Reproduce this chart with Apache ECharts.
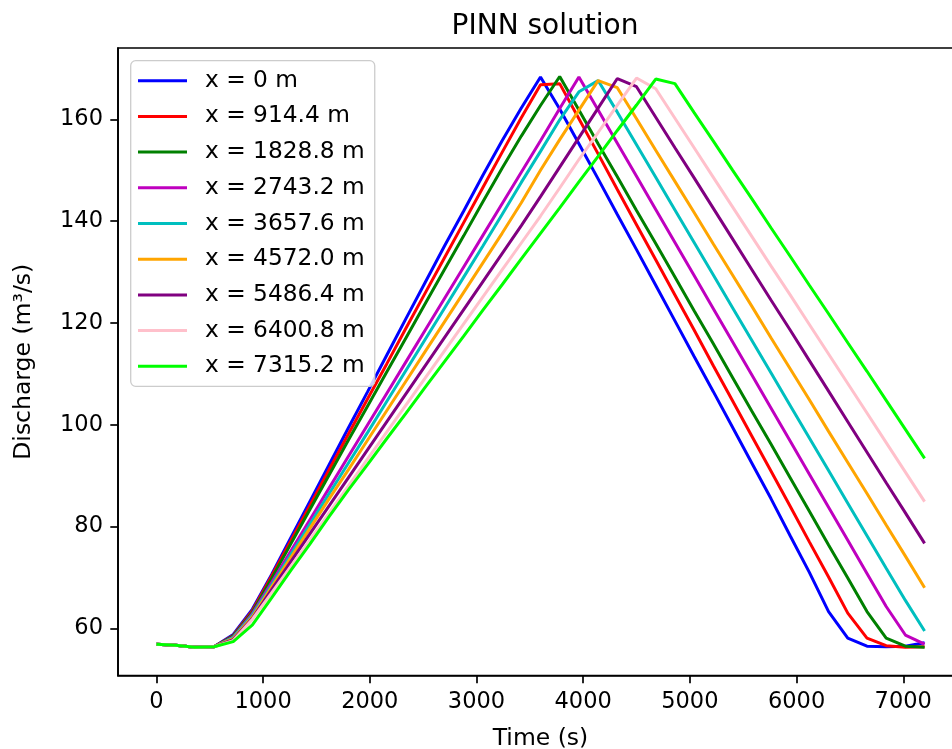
<!DOCTYPE html>
<html>
<head>
<meta charset="utf-8">
<title>PINN solution</title>
<script src="https://cdn.jsdelivr.net/npm/echarts@6/dist/echarts.min.js"></script>
<style>
  html, body { margin: 0; padding: 0; background: #fff; }
  #chart { width: 952px; height: 749px; }
</style>
</head>
<body>
<div id="chart"></div>
<script>
// time stamps (s)
const times = [0, 180, 360, 540, 720, 900, 1080, 1260, 1440, 1620, 1800, 1980, 2160, 2340, 2520,
  2700, 2880, 3060, 3240, 3420, 3600, 3780, 3960, 4140, 4320, 4500, 4680, 4860, 5040, 5220,
  5400, 5580, 5760, 5940, 6120, 6300, 6480, 6660, 6840, 7020, 7200]

// discharge (m3/s) at each station
const q0 = [56.9, 56.7, 56.3, 56.4, 58.8, 63.8, 70.6, 77.8, 85.0, 92.2, 99.4, 106.5, 113.7, 120.9, 128.0,
  135.1, 142.0, 149.0, 155.8, 162.2, 168.3, 162.0, 155.2, 148.3, 141.3, 134.4, 127.4, 120.4, 113.4, 106.5,
  99.5, 92.5, 85.5, 78.2, 71.0, 63.3, 58.1, 56.5, 56.4, 56.5, 57.2]
const q914 = [56.9, 56.7, 56.3, 56.4, 58.6, 63.5, 70.3, 77.2, 84.2, 91.2, 98.2, 105.1, 112.0, 119.0, 125.9,
  132.8, 139.7, 146.6, 153.5, 160.3, 166.8, 167.0, 160.1, 153.2, 146.2, 139.3, 132.4, 125.5, 118.6, 111.6,
  104.7, 97.8, 90.9, 84.0, 77.0, 70.1, 63.0, 58.1, 56.6, 56.3, 56.4]
const q1829 = [56.9, 56.7, 56.3, 56.4, 58.5, 63.2, 69.8, 76.6, 83.4, 90.2, 97.0, 103.7, 110.4, 117.1, 123.8,
  130.5, 137.1, 143.8, 150.4, 156.7, 162.7, 168.4, 161.8, 155.2, 148.7, 142.1, 135.6, 129.0, 122.4, 115.9,
  109.3, 102.7, 96.2, 89.6, 83.0, 76.4, 69.9, 63.3, 58.1, 56.5, 56.3]
const q2743 = [56.9, 56.7, 56.3, 56.4, 58.3, 62.9, 69.0, 75.2, 81.4, 87.6, 93.8, 100.0, 106.2, 112.4, 118.6,
  124.8, 131.0, 137.2, 143.4, 149.6, 155.8, 162.1, 168.3, 161.8, 155.3, 148.8, 142.3, 135.8, 129.3, 122.8,
  116.3, 109.8, 103.3, 96.8, 90.3, 83.8, 77.3, 70.8, 64.3, 58.7, 56.9]
const q3658 = [56.9, 56.7, 56.3, 56.4, 58.2, 62.6, 68.5, 74.5, 80.5, 86.5, 92.5, 98.5, 104.6, 110.7, 116.8,
  122.9, 129.0, 135.1, 141.3, 147.6, 153.7, 159.9, 165.4, 167.6, 161.4, 155.0, 148.6, 142.2, 135.8, 129.4,
  123.0, 116.6, 110.2, 103.8, 97.4, 91.0, 84.6, 78.2, 71.8, 65.5, 59.5]
const q4572 = [56.9, 56.7, 56.3, 56.4, 58.0, 62.3, 68.1, 73.9, 79.7, 85.5, 91.2, 97.0, 102.8, 108.6, 114.4,
  120.2, 126.0, 131.8, 137.6, 143.6, 150.0, 156.0, 161.8, 167.6, 166.2, 160.1, 153.9, 147.8, 141.7, 135.5,
  129.4, 123.3, 117.1, 111.0, 104.9, 98.7, 92.6, 86.5, 80.3, 74.2, 68.0]
const q5486 = [56.9, 56.7, 56.3, 56.4, 57.8, 62.0, 67.6, 73.1, 78.6, 84.1, 89.6, 95.1, 100.6, 106.1, 111.6,
  117.1, 122.6, 128.1, 133.6, 139.1, 144.8, 150.6, 156.4, 162.2, 168.0, 166.4, 160.4, 154.4, 148.5, 142.5,
  136.5, 130.5, 124.5, 118.6, 112.6, 106.6, 100.6, 94.6, 88.6, 82.7, 76.7]
const q6401 = [56.9, 56.7, 56.3, 56.4, 57.6, 61.8, 67.0, 72.2, 77.4, 82.7, 88.0, 93.3, 98.6, 103.9, 109.2,
  114.5, 119.8, 125.1, 130.4, 135.7, 141.0, 146.5, 152.1, 157.4, 162.8, 168.1, 166.0, 160.2, 154.4, 148.6,
  142.8, 137.0, 131.2, 125.5, 119.7, 113.9, 108.1, 102.3, 96.5, 90.7, 84.9]
const q7315 = [56.9, 56.7, 56.3, 56.4, 57.4, 60.7, 66.0, 71.4, 76.6, 82.0, 87.2, 92.2, 97.3, 102.3, 107.4,
  112.4, 117.4, 122.5, 127.5, 132.6, 137.6, 142.6, 147.7, 152.7, 157.8, 162.8, 167.9, 167.0, 161.3, 155.7,
  150.0, 144.4, 138.7, 133.1, 127.4, 121.8, 116.1, 110.5, 104.8, 99.1, 93.4]

const stationNames = ['x = 0 m', 'x = 914.4 m', 'x = 1828.8 m', 'x = 2743.2 m', 'x = 3657.6 m',
  'x = 4572.0 m', 'x = 5486.4 m', 'x = 6400.8 m', 'x = 7315.2 m']
const stationData = [q0, q914, q1829, q2743, q3658, q4572, q5486, q6401, q7315]
const colors = ['#0000ff', '#ff0000', '#008000', '#bf00bf', '#00bfbf', '#ffa500', '#800080', '#ffc0cb', '#00ff00']

const xTicks = [0, 1000, 2000, 3000, 4000, 5000, 6000, 7000]
const yTicks = [60, 80, 100, 120, 140, 160]

const font = 'DejaVu Sans'
const chart = echarts.init(document.getElementById('chart'), null, { renderer: 'canvas' })

const series = stationData.map((vals, i) => ({
  name: stationNames[i],
  type: 'line',
  data: times.map((t, j) => [t, vals[j]]),
  showSymbol: false,
  symbol: 'none',
  color: colors[i],
  lineStyle: { color: colors[i], width: 3 },
  emphasis: { disabled: true },
  animation: false
}))

const option = {
  animation: false,
  backgroundColor: '#fff',
  title: {
    text: 'PINN solution',
    left: 540,
    top: 8,
    textAlign: 'center',
    textStyle: { fontFamily: font, fontSize: 28, fontWeight: 'normal', color: '#000' }
  },
  grid: {
    left: 118,
    top: 48,
    width: 845,
    height: 627.5,
    outerBoundsMode: 'none',
    show: true,
    borderColor: '#000',
    borderWidth: 1.7,
    backgroundColor: 'transparent'
  },
  legend: {
    orient: 'vertical',
    left: 130.7,
    top: 60.7,
    icon: 'rect',
    itemWidth: 49,
    itemHeight: 3,
    itemGap: 9.7,
    padding: [7, 10, 7, 7.3],
    backgroundColor: 'rgba(255,255,255,0.8)',
    borderColor: '#cccccc',
    borderWidth: 1.3,
    borderRadius: 5,
    textStyle: { fontFamily: font, fontSize: 23.3, color: '#000', lineHeight: 26, padding: [0, 0, 0, 13] },
    data: stationNames
  },
  xAxis: {
    type: 'value',
    min: -360,
    max: 7560,
    name: 'Time (s)',
    nameLocation: 'middle',
    nameGap: 51,
    nameTextStyle: { fontFamily: font, fontSize: 23.5, color: '#000' },
    axisLine: { show: true, onZero: false, lineStyle: { color: '#000', width: 1.7 } },
    axisTick: { show: true, inside: false, length: 7.7, lineStyle: { color: '#000', width: 1.7 }, customValues: xTicks },
    axisLabel: {
      fontFamily: font, fontSize: 22.5, color: '#000', margin: 15, customValues: xTicks,
      formatter: v => String(v)
    },
    splitLine: { show: false }
  },
  yAxis: {
    type: 'value',
    min: 50.75,
    max: 174.0,
    name: 'Discharge (m³/s)',
    nameLocation: 'middle',
    nameRotate: 90,
    nameGap: 82,
    nameTextStyle: { fontFamily: font, fontSize: 23.5, color: '#000' },
    axisLine: { show: true, onZero: false, lineStyle: { color: '#000', width: 1.7 } },
    axisTick: { show: true, inside: false, length: 7.7, lineStyle: { color: '#000', width: 1.7 }, customValues: yTicks },
    axisLabel: {
      fontFamily: font, fontSize: 22.5, color: '#000', margin: 15, customValues: yTicks,
      formatter: v => String(v)
    },
    splitLine: { show: false }
  },
  series: series
}

chart.setOption(option)
</script>
</body>
</html>
